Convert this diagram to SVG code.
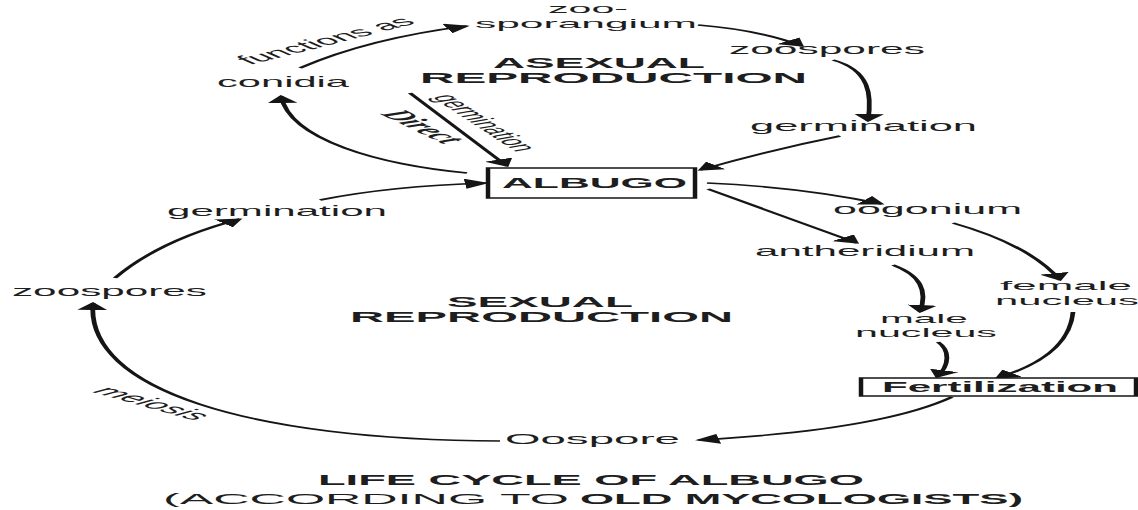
<svg xmlns="http://www.w3.org/2000/svg" width="1138" height="510" viewBox="0 0 1138 510">
<defs>
<marker id="ah" viewBox="0 0 8 10" refX="7" refY="5" markerWidth="8" markerHeight="10" markerUnits="userSpaceOnUse" orient="auto">
<path d="M0,0 L8,5 L0,10 z" fill="#151515"/>
</marker>
<style>
text{font-family:"Liberation Sans",Arial,sans-serif;fill:#1e1e1e;}
.r{font-size:14px;}
.s{font-size:13px;}
.b{font-size:15px;font-weight:bold;}
.bs{font-size:14px;font-weight:bold;}
.c{fill:none;stroke:#151515;stroke-width:1.6;marker-end:url(#ah);}
.box{fill:#fff;stroke:#151515;stroke-width:1.5;}
</style>
</defs>
<rect width="1138" height="510" fill="#fff"/>
<g transform="scale(3,1)">
<g id="connectors">
<path class="c" d="M100,68 Q123.33,38 155.67,26"/>
<path class="c" d="M232.67,25 Q253.33,30 267.33,46"/>
<path class="c" d="M277.67,60 C290,70 290.67,95 289.33,121"/>
<path class="c" d="M280,136 Q256.67,150 233.33,170"/>
<path class="c" d="M155.67,173 C126.67,165 96.67,140 93.67,96"/>
<path class="c" d="M136.67,93 L169,166"/>
<path class="c" d="M106.67,200 Q130,186 162,183"/>
<path class="c" d="M38.33,278 Q53.33,240 80,219"/>
<path class="c" d="M166.67,441 C83.33,440 28.33,390 31,303"/>
<path class="c" d="M235.67,183 Q266.67,187 294,204"/>
<path class="c" d="M236,189 L285.67,243"/>
<path class="c" d="M317.67,223 Q343.33,245 353.33,280"/>
<path class="c" d="M297.67,265 C306.67,275 309.33,290 306.67,312"/>
<path class="c" d="M312.67,342 C316.67,350 316.67,365 312.33,377"/>
<path class="c" d="M357.67,312 C356.67,345 346.67,365 332.33,378"/>
<path class="c" d="M317.33,397 Q293.33,430 232.67,440"/>
</g>
<g id="label-functions-as"><text transform="translate(83.33,65) rotate(-37)" textLength="69.7" lengthAdjust="spacingAndGlyphs" style="font-size:13px">functions as</text></g>
<g id="label-direct"><text transform="translate(126.67,114) rotate(55)" textLength="37" lengthAdjust="spacingAndGlyphs" style="font-family:'Liberation Serif','Times New Roman',serif;font-size:14px;font-weight:bold;font-style:italic">Direct</text></g>
<g id="label-germination-diag"><text transform="translate(144,97) rotate(63)" textLength="62" lengthAdjust="spacingAndGlyphs" style="font-size:12px">germination</text></g>
<g id="label-meiosis"><text transform="translate(30.67,392) rotate(40)" textLength="45" lengthAdjust="spacingAndGlyphs" style="font-size:13px;font-style:italic">meiosis</text></g>
<g id="zoosporangium">
<text class="s" x="182.67" y="13.5" textLength="26.67" lengthAdjust="spacingAndGlyphs">zoo-</text>
<text class="s" x="158.33" y="28" textLength="74" lengthAdjust="spacingAndGlyphs">sporangium</text>
</g>
<g id="asexual-title">
<text class="b" x="164.33" y="68" textLength="70.67" lengthAdjust="spacingAndGlyphs">ASEXUAL</text>
<text class="b" x="140" y="83" textLength="129" lengthAdjust="spacingAndGlyphs">REPRODUCTION</text>
</g>
<g id="zoospores-top"><text class="r" x="243" y="54" textLength="65.33" lengthAdjust="spacingAndGlyphs">zoospores</text></g>
<g id="germination-right"><text class="r" x="250" y="131" textLength="75.67" lengthAdjust="spacingAndGlyphs">germination</text></g>
<g id="conidia"><text class="r" x="72.33" y="87" textLength="44" lengthAdjust="spacingAndGlyphs">conidia</text></g>
<g id="germination-left"><text class="r" x="55.67" y="216" textLength="73.33" lengthAdjust="spacingAndGlyphs">germination</text></g>
<g id="zoospores-left"><text class="r" x="4" y="296" textLength="65" lengthAdjust="spacingAndGlyphs">zoospores</text></g>
<g id="albugo">
<rect class="box" x="162.67" y="168" width="69" height="30"/>
<text class="bs" x="167.33" y="188" textLength="61.67" lengthAdjust="spacingAndGlyphs">ALBUGO</text>
</g>
<g id="oogonium"><text class="r" x="277.67" y="214" textLength="63" lengthAdjust="spacingAndGlyphs">oogonium</text></g>
<g id="antheridium"><text class="r" x="251.67" y="256" textLength="73.33" lengthAdjust="spacingAndGlyphs">antheridium</text></g>
<g id="female-nucleus">
<text class="s" x="333.33" y="290.5" textLength="44" lengthAdjust="spacingAndGlyphs">female</text>
<text class="s" x="331.67" y="305" textLength="48" lengthAdjust="spacingAndGlyphs">nucleus</text>
</g>
<g id="male-nucleus">
<text class="s" x="293.33" y="323" textLength="29.33" lengthAdjust="spacingAndGlyphs">male</text>
<text class="s" x="285" y="337" textLength="47.33" lengthAdjust="spacingAndGlyphs">nucleus</text>
</g>
<g id="fertilization">
<rect class="box" x="287" y="378" width="91.67" height="18"/>
<text class="bs" x="294" y="392" textLength="78.67" lengthAdjust="spacingAndGlyphs">Fertilization</text>
</g>
<g id="sexual-title">
<text class="bs" x="149" y="307" textLength="62" lengthAdjust="spacingAndGlyphs">SEXUAL</text>
<text class="bs" x="116.67" y="322" textLength="127.67" lengthAdjust="spacingAndGlyphs">REPRODUCTION</text>
</g>
<g id="oospore"><text class="r" x="168.33" y="444" textLength="58.33" lengthAdjust="spacingAndGlyphs">Oospore</text></g>
<g id="caption">
<text class="b" x="106" y="485" textLength="182" lengthAdjust="spacingAndGlyphs">LIFE CYCLE OF ALBUGO</text>
<text class="r" x="54.33" y="504" textLength="135.33" lengthAdjust="spacingAndGlyphs" style="font-size:15px">(ACCORDING TO</text>
<text class="b" x="193.33" y="504" textLength="147.67" lengthAdjust="spacingAndGlyphs">OLD MYCOLOGISTS)</text>
</g>
</g>
</svg>
